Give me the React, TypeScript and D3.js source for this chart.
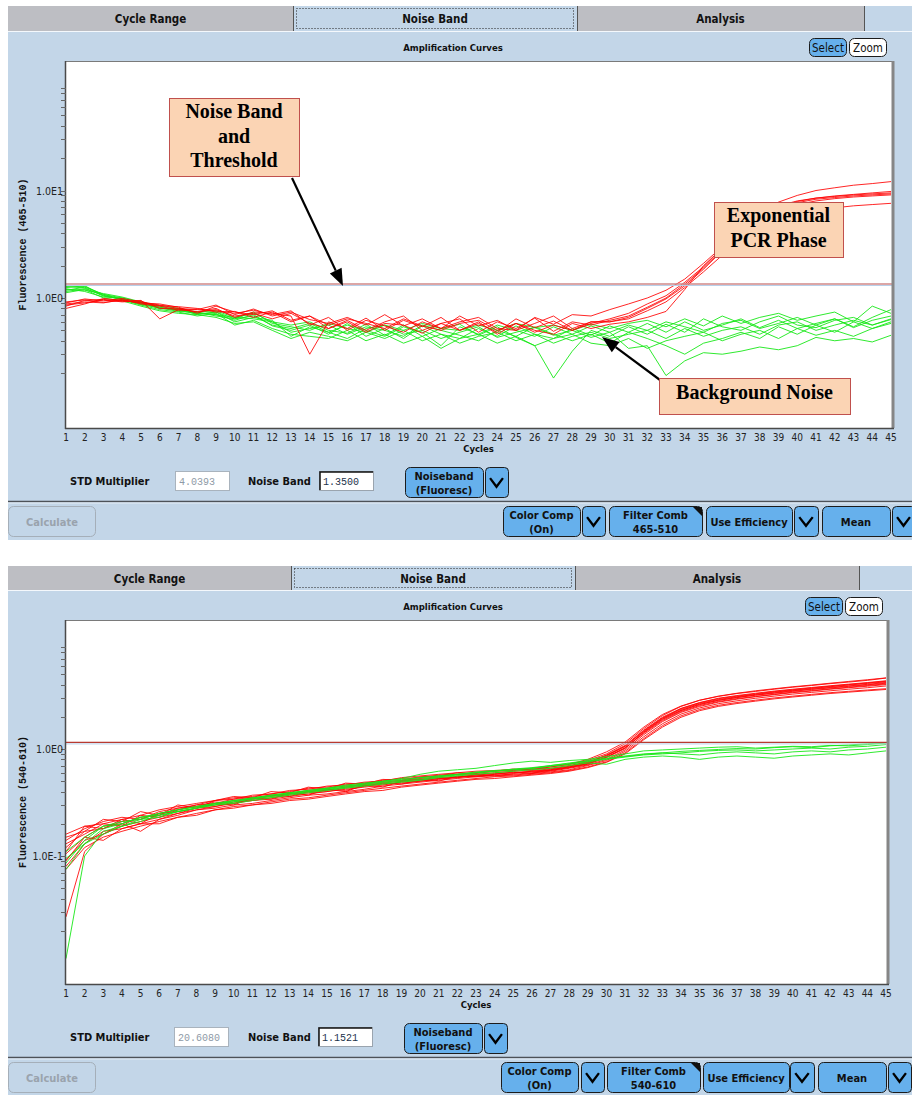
import React from "react";
import * as d3 from "d3";

// ---------------- DATA ----------------
const CYCLES = [1,2,3,4,5,6,7,8,9,10,11,12,13,14,15,16,17,18,19,20,21,22,23,24,25,26,27,28,29,30,31,32,33,34,35,36,37,38,39,40,41,42,43,44,45];
const X_TICK_LABELS = CYCLES.map(String);

// Panel 1: channel 465-510
const P1_RED_1 = [0.90,0.98,0.94,0.99,0.92,0.86,0.80,0.78,0.86,0.70,0.79,0.68,0.74,0.63,0.58,0.66,0.56,0.70,0.55,0.64,0.52,0.68,0.55,0.62,0.50,0.66,0.57,0.70,0.68,0.78,0.88,1.00,1.18,1.50,2.10,3.00,4.40,6.00,7.80,9.00,10.0,10.6,11.2,11.6,12.1];
const P1_RED_2 = [0.84,0.95,0.97,0.93,0.95,0.64,0.78,0.75,0.80,0.66,0.74,0.72,0.68,0.30,0.60,0.52,0.65,0.50,0.62,0.54,0.66,0.50,0.58,0.48,0.64,0.53,0.61,0.50,0.58,0.64,0.72,0.88,1.05,1.40,1.95,2.90,4.30,5.80,7.20,8.00,8.50,8.90,9.20,9.50,9.80];
const P1_RED_3 = [0.80,0.88,0.99,0.95,0.90,0.88,0.82,0.72,0.84,0.74,0.70,0.76,0.62,0.68,0.52,0.62,0.50,0.60,0.68,0.50,0.58,0.64,0.48,0.60,0.52,0.65,0.49,0.60,0.56,0.62,0.68,0.82,1.00,1.35,1.90,2.80,4.10,5.60,7.00,7.90,8.50,8.80,9.10,9.30,9.50];
const P1_RED_4 = [0.88,0.92,0.90,0.97,0.88,0.84,0.77,0.79,0.76,0.72,0.77,0.70,0.76,0.56,0.66,0.50,0.62,0.55,0.48,0.60,0.52,0.60,0.66,0.52,0.50,0.58,0.68,0.52,0.60,0.60,0.66,0.80,0.98,1.30,1.85,2.75,4.00,5.50,6.80,7.70,8.30,8.60,8.90,9.10,9.30];
const P1_RED_5 = [0.86,0.90,0.96,0.92,0.94,0.80,0.79,0.74,0.78,0.68,0.72,0.64,0.72,0.58,0.52,0.60,0.48,0.58,0.56,0.47,0.58,0.50,0.60,0.46,0.58,0.50,0.46,0.58,0.52,0.57,0.60,0.66,0.75,1.20,2.00,2.90,4.00,5.40,6.60,7.40,8.00,8.40,8.70,8.90,9.10];
const P1_RED_6 = [0.92,0.96,0.91,0.95,0.90,0.85,0.83,0.80,0.74,0.75,0.66,0.74,0.60,0.68,0.56,0.64,0.58,0.52,0.64,0.55,0.50,0.58,0.62,0.50,0.58,0.48,0.56,0.50,0.60,0.60,0.64,0.76,0.92,1.25,1.75,2.50,3.50,4.60,5.50,6.10,6.60,6.90,7.20,7.40,7.60];

const P1_GREEN_1 = [1.30,1.28,1.08,1.00,0.90,0.80,0.78,0.72,0.70,0.62,0.70,0.55,0.50,0.56,0.46,0.58,0.44,0.52,0.42,0.55,0.46,0.42,0.52,0.44,0.55,0.46,0.42,0.52,0.45,0.55,0.48,0.58,0.48,0.60,0.50,0.56,0.64,0.53,0.62,0.52,0.58,0.64,0.53,0.62,0.68];
const P1_GREEN_2 = [1.25,1.30,1.05,0.98,0.88,0.82,0.76,0.74,0.76,0.66,0.72,0.60,0.56,0.60,0.50,0.47,0.57,0.45,0.56,0.44,0.52,0.57,0.45,0.54,0.43,0.36,0.18,0.32,0.50,0.44,0.54,0.46,0.57,0.48,0.64,0.54,0.50,0.60,0.68,0.56,0.53,0.62,0.66,0.56,0.63];
const P1_GREEN_3 = [1.20,1.18,1.10,1.02,0.92,0.84,0.80,0.70,0.74,0.60,0.66,0.62,0.44,0.54,0.48,0.42,0.52,0.56,0.46,0.50,0.42,0.48,0.54,0.43,0.48,0.53,0.45,0.50,0.43,0.48,0.34,0.36,0.19,0.26,0.31,0.30,0.32,0.35,0.33,0.36,0.43,0.40,0.42,0.39,0.45];
const P1_GREEN_4 = [1.15,1.22,1.06,0.96,0.86,0.78,0.74,0.68,0.72,0.56,0.62,0.52,0.46,0.44,0.42,0.50,0.40,0.46,0.38,0.44,0.34,0.42,0.46,0.38,0.44,0.36,0.42,0.46,0.38,0.36,0.42,0.34,0.40,0.44,0.48,0.40,0.46,0.50,0.42,0.52,0.45,0.50,0.44,0.52,0.58];
const P1_GREEN_5 = [1.22,1.15,1.02,1.00,0.90,0.80,0.80,0.74,0.68,0.64,0.74,0.58,0.54,0.50,0.58,0.52,0.48,0.56,0.50,0.58,0.52,0.50,0.56,0.50,0.58,0.53,0.56,0.50,0.57,0.52,0.58,0.62,0.54,0.64,0.55,0.68,0.58,0.66,0.72,0.62,0.68,0.74,0.60,0.84,0.72];
const P1_GREEN_6 = [1.12,1.20,1.00,0.94,0.84,0.76,0.72,0.70,0.66,0.58,0.60,0.50,0.42,0.48,0.44,0.40,0.48,0.42,0.50,0.40,0.46,0.38,0.44,0.48,0.40,0.46,0.38,0.44,0.48,0.42,0.46,0.50,0.42,0.52,0.44,0.50,0.54,0.46,0.56,0.60,0.50,0.56,0.62,0.56,0.64];
const P1_GREEN_7 = [1.28,1.24,1.04,0.98,0.92,0.82,0.77,0.71,0.74,0.64,0.68,0.56,0.52,0.58,0.48,0.56,0.50,0.44,0.54,0.48,0.36,0.54,0.46,0.56,0.50,0.44,0.54,0.46,0.55,0.48,0.56,0.50,0.60,0.54,0.48,0.58,0.62,0.52,0.58,0.66,0.56,0.64,0.54,0.66,0.78];
const P1_GREEN_8 = [1.18,1.26,1.08,0.97,0.87,0.81,0.75,0.73,0.70,0.66,0.64,0.60,0.48,0.52,0.56,0.46,0.54,0.50,0.44,0.56,0.50,0.45,0.40,0.50,0.44,0.54,0.46,0.40,0.46,0.38,0.48,0.42,0.36,0.30,0.38,0.42,0.48,0.42,0.54,0.46,0.56,0.48,0.60,0.52,0.60];

// Panel 2: channel 540-610
const P2_RED_1 = [0.16,0.19,0.20,0.22,0.24,0.27,0.29,0.31,0.33,0.35,0.36,0.38,0.41,0.42,0.45,0.46,0.49,0.50,0.54,0.56,0.58,0.60,0.62,0.63,0.64,0.66,0.68,0.72,0.78,0.90,1.12,1.55,2.05,2.50,2.85,3.10,3.30,3.45,3.62,3.78,3.92,4.08,4.22,4.38,4.60];
const P2_RED_2 = [0.12,0.17,0.18,0.21,0.22,0.25,0.27,0.30,0.31,0.34,0.35,0.37,0.38,0.41,0.43,0.45,0.47,0.49,0.51,0.53,0.55,0.58,0.58,0.60,0.62,0.63,0.65,0.69,0.75,0.86,1.06,1.48,1.95,2.38,2.70,2.95,3.12,3.28,3.44,3.58,3.72,3.86,4.00,4.14,4.30];
const P2_RED_3 = [0.105,0.15,0.19,0.20,0.23,0.24,0.28,0.29,0.30,0.33,0.34,0.36,0.38,0.40,0.41,0.44,0.46,0.48,0.50,0.52,0.54,0.55,0.57,0.59,0.60,0.61,0.63,0.67,0.73,0.84,1.03,1.42,1.88,2.28,2.60,2.84,3.02,3.18,3.32,3.46,3.60,3.72,3.85,3.98,4.12];
const P2_RED_4 = [0.092,0.14,0.16,0.19,0.21,0.23,0.25,0.28,0.29,0.31,0.33,0.34,0.36,0.38,0.40,0.42,0.44,0.46,0.49,0.50,0.53,0.54,0.56,0.57,0.58,0.60,0.62,0.66,0.71,0.80,0.98,1.36,1.80,2.20,2.50,2.74,2.92,3.08,3.22,3.36,3.48,3.62,3.74,3.86,4.00];
const P2_RED_5 = [0.08,0.13,0.17,0.18,0.20,0.22,0.24,0.27,0.28,0.30,0.31,0.33,0.35,0.37,0.38,0.40,0.42,0.45,0.47,0.49,0.51,0.53,0.55,0.56,0.57,0.59,0.61,0.64,0.70,0.78,0.95,1.30,1.72,2.12,2.42,2.65,2.82,2.98,3.12,3.26,3.38,3.50,3.62,3.74,3.88];
const P2_RED_6 = [0.075,0.12,0.15,0.17,0.19,0.21,0.23,0.25,0.27,0.29,0.30,0.32,0.34,0.35,0.37,0.39,0.41,0.43,0.45,0.47,0.49,0.51,0.53,0.55,0.56,0.58,0.60,0.63,0.68,0.76,0.92,1.25,1.65,2.04,2.34,2.56,2.72,2.86,3.00,3.12,3.24,3.36,3.46,3.56,3.66];
const P2_RED_7 = [0.11,0.19,0.18,0.22,0.20,0.25,0.26,0.28,0.31,0.30,0.35,0.34,0.39,0.37,0.42,0.40,0.46,0.44,0.50,0.52,0.50,0.56,0.55,0.58,0.61,0.59,0.64,0.68,0.74,0.88,1.08,1.50,1.98,2.40,2.72,2.98,3.16,3.32,3.48,3.62,3.76,3.90,4.04,4.18,4.34];
const P2_RED_8 = [0.13,0.16,0.20,0.19,0.24,0.23,0.27,0.29,0.32,0.31,0.34,0.37,0.36,0.40,0.42,0.41,0.45,0.48,0.47,0.51,0.53,0.54,0.58,0.56,0.59,0.62,0.63,0.67,0.72,0.83,1.01,1.44,1.90,2.30,2.62,2.86,3.04,3.20,3.35,3.50,3.63,3.76,3.89,4.02,4.18];
const P2_RED_9 = [0.027,0.11,0.16,0.20,0.17,0.22,0.25,0.27,0.29,0.32,0.33,0.35,0.37,0.39,0.40,0.43,0.45,0.47,0.48,0.50,0.52,0.55,0.56,0.58,0.60,0.62,0.64,0.68,0.73,0.84,1.02,1.40,1.84,2.24,2.55,2.78,2.96,3.10,3.25,3.40,3.52,3.65,3.78,3.92,4.06];
const P2_RED_10 = [0.14,0.18,0.21,0.23,0.22,0.26,0.28,0.30,0.33,0.34,0.37,0.38,0.40,0.43,0.44,0.47,0.48,0.51,0.53,0.54,0.57,0.58,0.60,0.62,0.63,0.65,0.66,0.70,0.76,0.87,1.06,1.46,1.93,2.34,2.66,2.90,3.08,3.24,3.40,3.54,3.68,3.82,3.96,4.10,4.24];
const P2_RED_11 = [0.15,0.17,0.22,0.21,0.26,0.24,0.30,0.28,0.33,0.36,0.35,0.40,0.39,0.44,0.42,0.48,0.47,0.52,0.51,0.55,0.56,0.60,0.59,0.62,0.65,0.64,0.68,0.72,0.80,0.94,1.16,1.60,2.10,2.52,2.86,3.12,3.32,3.50,3.66,3.82,3.96,4.12,4.28,4.44,4.62];
const P2_RED_12 = [0.09,0.15,0.14,0.18,0.20,0.20,0.23,0.24,0.27,0.28,0.30,0.31,0.33,0.34,0.36,0.38,0.40,0.41,0.44,0.46,0.48,0.50,0.52,0.53,0.55,0.57,0.59,0.62,0.67,0.75,0.90,1.22,1.60,1.98,2.28,2.50,2.66,2.80,2.94,3.06,3.18,3.30,3.40,3.50,3.60];

const P2_GREEN_1 = [0.086,0.14,0.19,0.21,0.22,0.25,0.27,0.29,0.31,0.33,0.35,0.37,0.39,0.41,0.43,0.45,0.47,0.50,0.53,0.58,0.62,0.64,0.66,0.70,0.74,0.77,0.75,0.78,0.80,0.85,0.90,0.96,0.98,1.00,1.02,1.04,1.05,1.02,1.04,1.06,1.05,1.08,1.07,1.10,1.14];
const P2_GREEN_2 = [0.095,0.13,0.18,0.20,0.23,0.24,0.26,0.28,0.30,0.32,0.34,0.36,0.38,0.40,0.42,0.44,0.46,0.48,0.50,0.52,0.55,0.57,0.60,0.62,0.64,0.66,0.69,0.72,0.76,0.80,0.84,0.88,0.90,0.92,0.95,0.97,0.98,0.96,0.98,1.00,1.02,1.00,1.04,1.06,1.10];
const P2_GREEN_3 = [0.011,0.10,0.17,0.19,0.21,0.24,0.26,0.28,0.30,0.31,0.33,0.35,0.37,0.39,0.41,0.43,0.45,0.47,0.49,0.51,0.54,0.56,0.58,0.60,0.62,0.64,0.66,0.70,0.74,0.72,0.80,0.84,0.86,0.84,0.80,0.84,0.86,0.84,0.82,0.86,0.88,0.90,0.88,0.92,0.96];
const P2_GREEN_4 = [0.075,0.13,0.16,0.19,0.22,0.23,0.26,0.28,0.31,0.33,0.34,0.37,0.39,0.41,0.43,0.46,0.48,0.50,0.52,0.54,0.56,0.58,0.61,0.63,0.64,0.66,0.70,0.73,0.77,0.81,0.85,0.89,0.92,0.95,0.97,0.99,1.01,1.00,1.03,1.05,1.03,1.07,1.09,1.12,1.14];
const P2_GREEN_5 = [0.11,0.15,0.19,0.20,0.23,0.25,0.27,0.29,0.31,0.32,0.35,0.36,0.38,0.40,0.42,0.44,0.47,0.49,0.51,0.54,0.56,0.58,0.60,0.62,0.65,0.67,0.70,0.74,0.78,0.82,0.86,0.90,0.92,0.90,0.88,0.92,0.94,0.92,0.90,0.94,0.96,0.94,0.98,1.00,1.04];

const P1_RED = [P1_RED_1, P1_RED_2, P1_RED_3, P1_RED_4, P1_RED_5, P1_RED_6];
const P1_GREEN = [P1_GREEN_1, P1_GREEN_2, P1_GREEN_3, P1_GREEN_4, P1_GREEN_5, P1_GREEN_6, P1_GREEN_7, P1_GREEN_8];
const P2_RED = [P2_RED_1, P2_RED_2, P2_RED_3, P2_RED_4, P2_RED_5, P2_RED_6, P2_RED_7, P2_RED_8, P2_RED_9, P2_RED_10, P2_RED_11, P2_RED_12];
const P2_GREEN = [P2_GREEN_1, P2_GREEN_2, P2_GREEN_3, P2_GREEN_4, P2_GREEN_5];

const P1_Y_TICKS = [0.2,0.3,0.4,0.5,0.6,0.7,0.8,0.9,1,2,3,4,5,6,7,8,9,10,20,30,40,50,60,70,80,90];
const P1_Y_LABELS = [{ v: 1, t: "1.0E0" }, { v: 10, t: "1.0E1" }];
const P2_Y_TICKS = [0.02,0.03,0.04,0.05,0.06,0.07,0.08,0.09,0.1,0.2,0.3,0.4,0.5,0.6,0.7,0.8,0.9,1,2,3,4,5,6,7,8,9];
const P2_Y_LABELS = [{ v: 0.1, t: "1.0E-1" }, { v: 1, t: "1.0E0" }];

const TAB_LABELS = ["Cycle Range", "Noise Band", "Analysis"];
const P1_THRESHOLD = 1.35;
const P2_THRESHOLD = 1.1521;

// ---------------- STYLE ----------------
const NARROW = "'Liberation Sans Narrow','Arial Narrow','DejaVu Sans Condensed','DejaVu Sans',sans-serif";
const MONO = "'Liberation Mono','DejaVu Sans Mono',monospace";
const SERIF = "'Liberation Serif','Times New Roman',serif";
const PANEL_BG = "#c3d6e8";
const TAB_GRAY = "#bdbec3";
const BTN_BLUE = "#66b0ec";
const PEACH = "#fbd4b4";
const BOX_EDGE = "#c0504d";
const NS: React.CSSProperties = { fontStretch: "condensed" };

type Cfg = {
  top: number; tabH: number; tabs: number[]; bottom: number;
  titleY: number; selX: number; selY: number;
  l: number; r: number; x45: number; t: number; b: number; y1: number; decade: number;
  ctrlY: number; in1X: number; nbX: number; in2X: number; nbBtnX: number;
  sepY: number; btnY: number;
  cc: number; ccv: number; fc: number; ue: number; uev: number; mn: number; mnv: number;
  thrColor: string; thrWidth: number;
};

const CFG1: Cfg = {
  top: 6, tabH: 25, tabs: [8, 293, 577, 864], bottom: 540,
  titleY: 51, selX: 809, selY: 38,
  l: 66, r: 892, x45: 891, t: 61, b: 428, y1: 298, decade: 107.5,
  ctrlY: 481, in1X: 175, nbX: 248, in2X: 319, nbBtnX: 405,
  sepY: 501, btnY: 506,
  cc: 503, ccv: 582, fc: 609, ue: 706, uev: 794, mn: 822, mnv: 892,
  thrColor: "#d08888", thrWidth: 1.6,
};
const CFG2: Cfg = {
  top: 566, tabH: 24, tabs: [8, 291, 575, 859], bottom: 1095,
  titleY: 610, selX: 805, selY: 597,
  l: 66, r: 887, x45: 886, t: 620, b: 984, y1: 749, decade: 107,
  ctrlY: 1037, in1X: 174, nbX: 248, in2X: 318, nbBtnX: 404,
  sepY: 1057, btnY: 1062,
  cc: 501, ccv: 581, fc: 607, ue: 703, uev: 790, mn: 818, mnv: 888,
  thrColor: "#b83a30", thrWidth: 1.2,
};

function T(props: any) {
  return <text fontFamily={NARROW} style={NS} fill="#111" {...props} />;
}

function Chevron({ x, y, w, h }: { x: number; y: number; w: number; h: number }) {
  return (
    <g>
      <rect x={x + 0.5} y={y + 0.5} width={w} height={h} rx={4} fill={BTN_BLUE} stroke="#1c1c1c" strokeWidth={1} />
      <polyline
        points={`${x + w * 0.22},${y + h * 0.37} ${x + w / 2},${y + h * 0.66} ${x + w * 0.78},${y + h * 0.37}`}
        fill="none" stroke="#000" strokeWidth={2.3}
      />
    </g>
  );
}

function Btn({ x, y, w, h, lines, corner }: { x: number; y: number; w: number; h: number; lines: string[]; corner?: boolean }) {
  const cx = x + w / 2;
  return (
    <g>
      <rect x={x + 0.5} y={y + 0.5} width={w} height={h} rx={5} fill={BTN_BLUE} stroke="#1c1c1c" strokeWidth={1} />
      {corner && <polygon points={`${x + w - 9},${y + 1} ${x + w},${y + 1} ${x + w},${y + 10}`} fill="#111" />}
      {lines.length === 2 ? (
        <>
          <T x={cx} y={y + 13} textAnchor="middle" fontWeight="bold" fontSize={11}>{lines[0]}</T>
          <T x={cx} y={y + 27} textAnchor="middle" fontWeight="bold" fontSize={11}>{lines[1]}</T>
        </>
      ) : (
        <T x={cx} y={y + h / 2 + 4.5} textAnchor="middle" fontWeight="bold" fontSize={11}>{lines[0]}</T>
      )}
    </g>
  );
}

function Arrow({ x1, y1, x2, y2 }: { x1: number; y1: number; x2: number; y2: number }) {
  const ang = Math.atan2(y2 - y1, x2 - x1);
  const len = 17, half = 6.5;
  const bx = x2 - len * Math.cos(ang), by = y2 - len * Math.sin(ang);
  const px = -Math.sin(ang) * half, py = Math.cos(ang) * half;
  return (
    <g>
      <line x1={x1} y1={y1} x2={bx} y2={by} stroke="#000" strokeWidth={2.2} />
      <polygon points={`${x2},${y2} ${bx + px},${by + py} ${bx - px},${by - py}`} fill="#000" />
    </g>
  );
}

function Callout({ x, y, w, h, lines }: { x: number; y: number; w: number; h: number; lines: { t: string; y: number }[] }) {
  return (
    <g>
      <rect x={x + 0.5} y={y + 0.5} width={w} height={h} fill={PEACH} stroke={BOX_EDGE} strokeWidth={1} />
      {lines.map((ln, i) => (
        <text key={i} x={x + w / 2} y={ln.y} textAnchor="middle" fontFamily={SERIF} fontWeight="bold" fontSize={20} fill="#000">{ln.t}</text>
      ))}
    </g>
  );
}

function Panel({ cfg, red, green, threshold, yTicks, yLabels, channel, std, band, filter, greenOnTop, id }: {
  cfg: Cfg; red: number[][]; green: number[][]; threshold: number; yTicks: number[];
  yLabels: { v: number; t: string }[]; channel: string; std: string; band: string; filter: string; greenOnTop: boolean; id: string;
}) {
  const x = d3.scaleLinear().domain([CYCLES[0], CYCLES[CYCLES.length - 1]]).range([cfg.l, cfg.x45]);
  const vTop = Math.pow(10, (cfg.y1 - cfg.t) / cfg.decade);
  const vBot = Math.pow(10, -(cfg.b - cfg.y1) / cfg.decade);
  const y = d3.scaleLog().domain([vBot, vTop]).range([cfg.b, cfg.t]);
  const line = d3.line<number>().x((_, i) => x(CYCLES[i])).y((v) => y(v));
  const tabY = cfg.top;
  const tabB = cfg.top + cfg.tabH;
  const redEls = red.map((s, i) => <path key={"r" + i} d={line(s) || ""} fill="none" stroke="#ff0000" strokeWidth={1} strokeOpacity={0.85} />);
  const greenEls = green.map((s, i) => <path key={"g" + i} d={line(s) || ""} fill="none" stroke="#18e818" strokeWidth={1} strokeOpacity={0.9} />);
  const ty = y(threshold);
  const plotMidY = (cfg.t + cfg.b) / 2;
  const ctrl = cfg.ctrlY;
  return (
    <g>
      {/* panel background */}
      <rect x={8} y={tabY} width={904} height={cfg.bottom - tabY} fill={PANEL_BG} />
      {/* tabs */}
      <rect x={cfg.tabs[0]} y={tabY} width={cfg.tabs[3] - cfg.tabs[0]} height={cfg.tabH} fill={TAB_GRAY} />
      <rect x={cfg.tabs[1] + 1} y={tabY} width={cfg.tabs[2] - cfg.tabs[1] - 1} height={cfg.tabH} fill={PANEL_BG} />
      <rect x={cfg.tabs[1] + 3.5} y={tabY + 2.5} width={cfg.tabs[2] - cfg.tabs[1] - 7} height={cfg.tabH - 5} fill="none" stroke="#222" strokeWidth={1} strokeDasharray="1,2" />
      {[cfg.tabs[1], cfg.tabs[2], cfg.tabs[3]].map((tx, i) => (
        <line key={i} x1={tx + 0.5} y1={tabY} x2={tx + 0.5} y2={tabB} stroke="#555" strokeWidth={1} />
      ))}
      <line x1={8} y1={tabB + 0.5} x2={912} y2={tabB + 0.5} stroke="#f4f8fc" strokeWidth={1} />
      {TAB_LABELS.map((t, i) => (
        <T key={t} x={(cfg.tabs[i] + cfg.tabs[i + 1]) / 2} y={tabY + cfg.tabH / 2 + 4.5} textAnchor="middle" fontWeight="bold" fontSize={11.5}>{t}</T>
      ))}
      {/* title & select/zoom */}
      <T x={453} y={cfg.titleY} textAnchor="middle" fontWeight="bold" fontSize={9.5}>Amplification Curves</T>
      <rect x={cfg.selX + 0.5} y={cfg.selY + 0.5} width={37} height={18} rx={5} fill={BTN_BLUE} stroke="#1c1c1c" />
      <T x={cfg.selX + 19} y={cfg.selY + 13.5} textAnchor="middle" fontSize={11.5}>Select</T>
      <rect x={cfg.selX + 40.5} y={cfg.selY + 0.5} width={37} height={18} rx={5} fill="#fff" stroke="#1c1c1c" />
      <T x={cfg.selX + 59} y={cfg.selY + 13.5} textAnchor="middle" fontSize={11.5}>Zoom</T>
      {/* plot area */}
      <defs>
        <clipPath id={id}>
          <rect x={cfg.l} y={cfg.t} width={cfg.r - cfg.l} height={cfg.b - cfg.t} />
        </clipPath>
      </defs>
      <rect x={cfg.l} y={cfg.t} width={cfg.r - cfg.l} height={cfg.b - cfg.t} fill="#fff" />
      <g clipPath={`url(#${id})`}>
        {greenOnTop ? <>{redEls}{greenEls}</> : <>{greenEls}{redEls}</>}
        <line x1={cfg.l} y1={ty + 1.5} x2={cfg.r} y2={ty + 1.5} stroke="#b8d0ea" strokeWidth={1} />
        <line x1={cfg.l} y1={ty} x2={cfg.r} y2={ty} stroke={cfg.thrColor} strokeWidth={cfg.thrWidth} />
      </g>
      <line x1={cfg.l} y1={cfg.t + 0.5} x2={cfg.r} y2={cfg.t + 0.5} stroke="#7a7a7a" strokeWidth={1} />
      <line x1={cfg.r + 1} y1={cfg.t} x2={cfg.r + 1} y2={cfg.b} stroke="#868686" strokeWidth={3} />
      <line x1={cfg.l - 0.5} y1={cfg.t} x2={cfg.l - 0.5} y2={cfg.b + 1} stroke="#4a4a4a" strokeWidth={1.5} />
      <line x1={cfg.l - 1} y1={cfg.b + 0.5} x2={cfg.r + 2} y2={cfg.b + 0.5} stroke="#4a4a4a" strokeWidth={1.5} />
      {/* y ticks */}
      {yTicks.map((v) => (
        <line key={v} x1={cfg.l - 5} y1={Math.round(y(v)) + 0.5} x2={cfg.l} y2={Math.round(y(v)) + 0.5} stroke="#666" strokeWidth={1} />
      ))}
      {yLabels.map((lb) => (
        <T key={lb.t} x={cfg.l - 3} y={y(lb.v) + 4} textAnchor="end" fontSize={10.5} fill="#222">{lb.t}</T>
      ))}
      <text transform={`translate(${26},${plotMidY}) rotate(-90)`} textAnchor="middle" fontFamily={MONO} fontWeight="bold" fontSize={10} fill="#111">{`Fluorescence (${channel})`}</text>
      {/* x ticks */}
      {CYCLES.map((c, i) => (
        <T key={c} x={x(c)} y={cfg.b + 13} textAnchor="middle" fontSize={10} fill="#222">{X_TICK_LABELS[i]}</T>
      ))}
      <T x={(cfg.l + cfg.x45) / 2} y={cfg.b + 24} textAnchor="middle" fontWeight="bold" fontSize={9.5}>Cycles</T>
      {/* control row */}
      <T x={70} y={ctrl + 4} fontWeight="bold" fontSize={11}>STD Multiplier</T>
      <rect x={cfg.in1X + 0.5} y={ctrl - 9.5} width={54} height={19} fill="#fff" stroke="#a9b3bd" strokeWidth={1} />
      <text x={cfg.in1X + 4} y={ctrl + 4} fontFamily={MONO} fontSize={10} fill="#8e9aa6">{std}</text>
      <T x={cfg.nbX} y={ctrl + 4} fontWeight="bold" fontSize={11}>Noise Band</T>
      <rect x={cfg.in2X + 0.5} y={ctrl - 9.5} width={54} height={19} fill="#fff" stroke="#9aa4ae" strokeWidth={1} />
      <polyline points={`${cfg.in2X + 1},${ctrl + 9} ${cfg.in2X + 1},${ctrl - 9} ${cfg.in2X + 54},${ctrl - 9}`} fill="none" stroke="#111" strokeWidth={1.5} />
      <text x={cfg.in2X + 4} y={ctrl + 4} fontFamily={MONO} fontSize={10} fill="#23324a">{band}</text>
      <Btn x={cfg.nbBtnX} y={ctrl - 14} w={78} h={30} lines={["Noiseband", "(Fluoresc)"]} />
      <Chevron x={cfg.nbBtnX + 80} y={ctrl - 14} w={23} h={30} />
      {/* separator */}
      <line x1={8} y1={cfg.sepY + 0.5} x2={912} y2={cfg.sepY + 0.5} stroke="#4d5258" strokeWidth={1.3} />
      <line x1={8} y1={cfg.sepY + 2} x2={912} y2={cfg.sepY + 2} stroke="#e6eef6" strokeWidth={1} />
      {/* bottom toolbar */}
      <rect x={8.5} y={cfg.btnY + 0.5} width={87} height={30} rx={5} fill={PANEL_BG} stroke="#a5afb9" strokeWidth={1} />
      <T x={52} y={cfg.btnY + 20} textAnchor="middle" fontWeight="bold" fontSize={11} fill="#9aa3ad">Calculate</T>
      <Btn x={cfg.cc} y={cfg.btnY} w={77} h={30} lines={["Color Comp", "(On)"]} />
      <Chevron x={cfg.ccv} y={cfg.btnY} w={23} h={30} />
      <Btn x={cfg.fc} y={cfg.btnY} w={93} h={30} lines={["Filter Comb", filter]} corner />
      <Btn x={cfg.ue} y={cfg.btnY} w={86} h={30} lines={["Use Efficiency"]} />
      <Chevron x={cfg.uev} y={cfg.btnY} w={24} h={30} />
      <Btn x={cfg.mn} y={cfg.btnY} w={68} h={30} lines={["Mean"]} />
      <Chevron x={cfg.mnv} y={cfg.btnY} w={23} h={30} />
    </g>
  );
}

export default function App() {
  return (
    <div style={{ position: "absolute", left: 0, top: 0, width: 912, height: 1095, background: "#fff" }}>
      <svg width={912} height={1095} viewBox="0 0 912 1095" style={{ display: "block" }}>
        <rect x={0} y={0} width={912} height={1095} fill="#fff" />
        <Panel cfg={CFG1} red={P1_RED} green={P1_GREEN} threshold={P1_THRESHOLD} yTicks={P1_Y_TICKS} yLabels={P1_Y_LABELS}
          channel="465-510" std="4.0393" band="1.3500" filter="465-510" greenOnTop={false} id="clip1" />
        <Panel cfg={CFG2} red={P2_RED} green={P2_GREEN} threshold={P2_THRESHOLD} yTicks={P2_Y_TICKS} yLabels={P2_Y_LABELS}
          channel="540-610" std="20.6080" band="1.1521" filter="540-610" greenOnTop={true} id="clip2" />
        {/* annotations (top panel) */}
        <Arrow x1={292} y1={178} x2={343} y2={286} />
        <Callout x={169} y={98} w={130} h={78} lines={[{ t: "Noise Band", y: 118 }, { t: "and", y: 143 }, { t: "Threshold", y: 167 }]} />
        <Callout x={714} y={202} w={129} h={55} lines={[{ t: "Exponential", y: 222 }, { t: "PCR Phase", y: 247 }]} />
        <Arrow x1={660} y1={380} x2={602} y2={337} />
        <Callout x={659} y={378} w={191} h={36} lines={[{ t: "Background Noise", y: 399 }]} />
      </svg>
    </div>
  );
}
